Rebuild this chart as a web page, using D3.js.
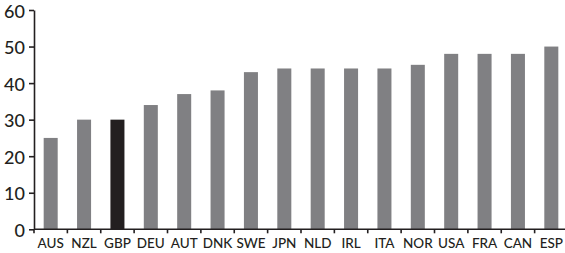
<!DOCTYPE html>
<html>
<head>
<meta charset="utf-8">
<script src="https://cdn.jsdelivr.net/npm/d3@7"></script>
<style>
  body { margin: 0; background: #fff; }
  svg { display: block; }
  .axis text { font-family: 'Lato', 'Open Sans', sans-serif; fill: #231f20; font-weight: 500; }
  .axis path, .axis line { stroke: #231f20; stroke-width: 1.6; }
</style>
</head>
<body>
<svg id="chart" width="565" height="253"></svg>
<script>
// Countries along the X axis
const countries = ['AUS', 'NZL', 'GBP', 'DEU', 'AUT', 'DNK', 'SWE', 'JPN',
  'NLD', 'IRL', 'ITA', 'NOR', 'USA', 'FRA', 'CAN', 'ESP'];
// Bar values
const values = [25, 30, 30, 34, 37, 38, 43, 44, 44, 44, 44, 45, 48, 48, 48, 50];
// Y axis tick labels
const yTicks = [0, 10, 20, 30, 40, 50, 60];
const highlight = 'GBP';

const data = countries.map((c, i) => ({ country: c, value: values[i] }));

const margin = { top: 10, left: 34 };
const width = 534;
const height = 219.3;

const svg = d3.select('#chart');
const g = svg.append('g')
  .attr('transform', `translate(${margin.left}, ${margin.top})`);

// Scales
const x = d3.scaleBand()
  .domain(countries)
  .range([0, width])
  .paddingInner(0.58)
  .paddingOuter(0.29);

const y = d3.scaleLinear()
  .domain([0, 60])
  .range([height, 0]);

// Bars
g.selectAll('.bar')
  .data(data)
  .enter().append('rect')
  .attr('class', 'bar')
  .attr('x', d => x(d.country))
  .attr('y', d => y(d.value))
  .attr('width', x.bandwidth())
  .attr('height', d => height - y(d.value))
  .attr('fill', d => (d.country === highlight ? '#231f20' : '#808083'));

// X axis with ticks between categories
const step = x.step();
const xAxis = g.append('g')
  .attr('class', 'x axis')
  .attr('transform', `translate(0, ${height})`);

xAxis.append('line')
  .attr('x1', 0)
  .attr('x2', width)
  .attr('y1', 0)
  .attr('y2', 0);

xAxis.selectAll('.tick')
  .data(d3.range(countries.length + 1))
  .enter().append('line')
  .attr('class', 'tick')
  .attr('x1', i => i * step)
  .attr('x2', i => i * step)
  .attr('y1', 0)
  .attr('y2', 4);

xAxis.selectAll('.label')
  .data(countries)
  .enter().append('text')
  .attr('class', 'label')
  .attr('x', d => x(d) + x.bandwidth() / 2)
  .attr('y', 18.5)
  .attr('text-anchor', 'middle')
  .style('font-size', '13.5px')
  .text(d => d);

// Y axis
const yAxis = d3.axisLeft(y)
  .tickValues(yTicks)
  .tickSize(5)
  .tickPadding(4)
  .tickSizeOuter(0);

g.append('g')
  .attr('class', 'y axis')
  .call(yAxis)
  .selectAll('text')
  .attr('dy', '0.4em')
  .style('font-size', '18px');
</script>
</body>
</html>
